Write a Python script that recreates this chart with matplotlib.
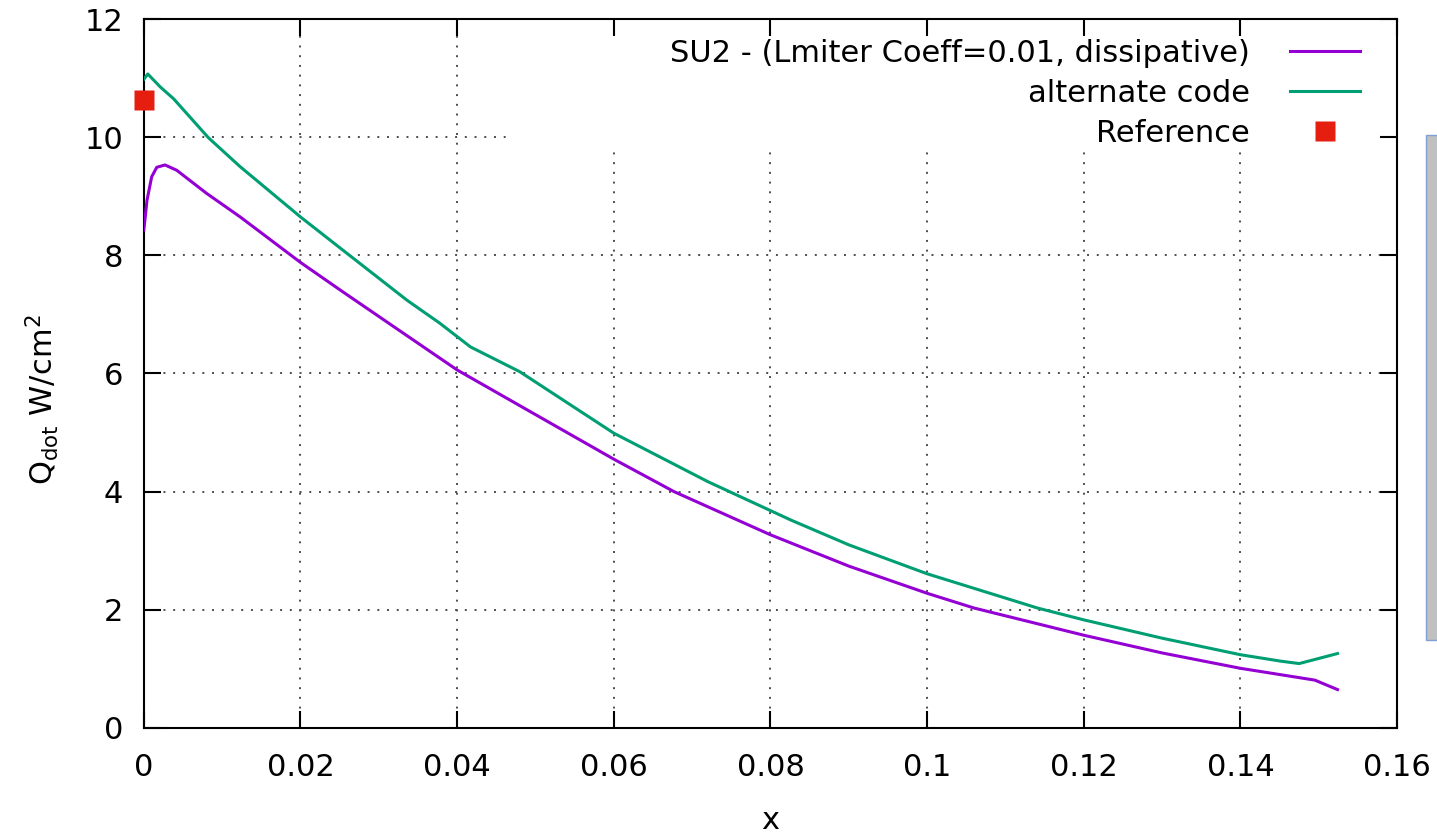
import numpy as np
import matplotlib
matplotlib.use("Agg")
import matplotlib.pyplot as plt
from matplotlib.patches import Rectangle

# data (x, heat flux in W/cm^2)
su2_x = [0.0, 0.0004, 0.001, 0.00165, 0.0027, 0.0042, 0.008, 0.0123, 0.02, 0.0251,
         0.0294, 0.04, 0.049, 0.06, 0.0677, 0.08, 0.09, 0.10, 0.106, 0.12, 0.13,
         0.14, 0.1495, 0.1524]
su2_q = [8.43, 8.93, 9.33, 9.49, 9.53, 9.44, 9.05, 8.65, 7.88, 7.41,
         7.02, 6.06, 5.38, 4.55, 4.0, 3.27, 2.74, 2.28, 2.03, 1.57, 1.27,
         1.01, 0.81, 0.65]

alt_x = [0.0, 0.0005, 0.0021, 0.0038, 0.00825, 0.0123, 0.02, 0.0251, 0.0336, 0.0378,
         0.0417, 0.048, 0.06, 0.072, 0.0826, 0.09, 0.10, 0.1141, 0.12, 0.13,
         0.14, 0.1452, 0.1475, 0.1524]
alt_q = [10.98, 11.07, 10.85, 10.65, 9.99, 9.50, 8.65, 8.12, 7.24, 6.85,
         6.45, 6.03, 4.99, 4.17, 3.52, 3.1, 2.61, 2.03, 1.83, 1.52,
         1.24, 1.13, 1.09, 1.26]

ref_x = [0.0]
ref_q = [10.63]

xticks = [0, 0.02, 0.04, 0.06, 0.08, 0.1, 0.12, 0.14, 0.16]
xticklabels = ["0", "0.02", "0.04", "0.06", "0.08", "0.1", "0.12", "0.14", "0.16"]
yticks = [0, 2, 4, 6, 8, 10, 12]

plt.rcParams['font.family'] = ['DejaVu Sans']
plt.rcParams['font.size'] = 22

fig = plt.figure(figsize=(14.37, 8.38), dpi=100)
ax = fig.add_axes([0.1001, 0.1313, 0.8721, 0.846])

# dotted grid (drawn by hand so the key area can hide it)
for xv in xticks[1:-1]:
    ax.axvline(xv, color='0.3', lw=1.4, ls=(0, (1, 4)), zorder=1)
for yv in yticks[1:-1]:
    ax.axhline(yv, color='0.3', lw=1.4, ls=(0, (1, 4)), zorder=1)
ax.add_patch(Rectangle((0.0465, 9.75), 0.2, 3, facecolor='white', edgecolor='none', zorder=1.5))

ax.plot(su2_x, su2_q, color='#9400d3', lw=2.2, label='SU2 - (Lmiter Coeff=0.01, dissipative)', zorder=3)
ax.plot(alt_x, alt_q, color='#009e73', lw=2.2, label='alternate code', zorder=3)
ax.plot(ref_x, ref_q, ls='none', marker='s', ms=15, color='#e51e10', mec='none',
        label='Reference', clip_on=False, zorder=4)

ax.set_xlim(0, 0.16)
ax.set_ylim(0, 12)
ax.set_xticks(xticks)
ax.set_xticklabels(xticklabels)
ax.set_yticks(yticks)
ax.tick_params(direction='in', length=12, width=1.5, top=True, right=True)
ax.tick_params(axis='x', pad=18)
ax.tick_params(axis='y', pad=15)
for sp in ax.spines.values():
    sp.set_linewidth(1.5)

ax.set_xlabel('x', labelpad=17)
ax.set_ylabel(r'Q$_{\mathregular{dot}}$ W/cm$^{\mathregular{2}}$')
ax.yaxis.set_label_coords(-0.066, 0.463)

ax.legend(loc='upper right', bbox_to_anchor=(0.9705, 0.972), frameon=False,
          markerfirst=False, borderpad=0, handlelength=2.3, handletextpad=1.3,
          labelspacing=0.36, numpoints=1, borderaxespad=0)

# grey strip at right edge of the screenshot
fig.patches.append(Rectangle((0.9923, 0.236), 0.02, 0.603, transform=fig.transFigure,
                             facecolor='#c0c0c0', edgecolor='#7f9fcf', lw=1))

fig.savefig('out.png', dpi=100)
